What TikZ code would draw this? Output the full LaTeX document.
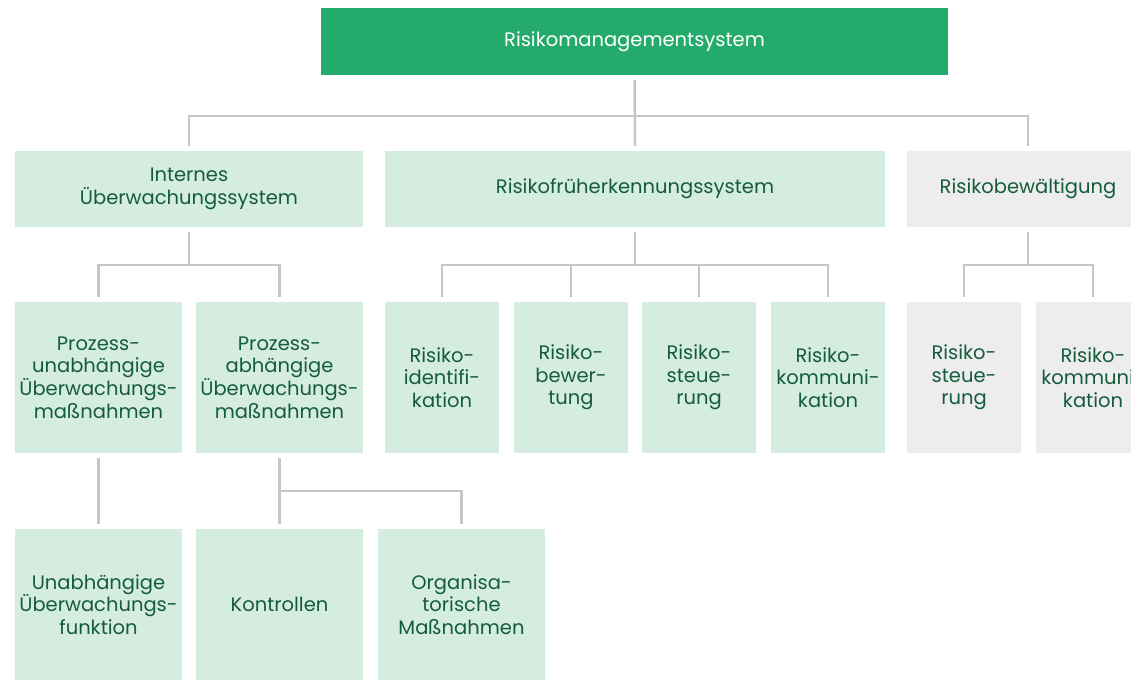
\documentclass[tikz,border=0pt]{standalone}
\usepackage{fontspec}
\setmainfont{Poppins}
\definecolor{topg}{HTML}{24AB6B}
\definecolor{lightg}{HTML}{D4EDE0}
\definecolor{lgray}{HTML}{EDEDED}
\definecolor{txtg}{HTML}{145C3C}
\definecolor{conng}{HTML}{C6C6C6}
\tikzset{
  box/.style={inner sep=0pt, align=center, text=txtg, font=\fontsize{19.5}{22.7}\selectfont},
  gbox/.style={box, fill=lightg},
  ybox/.style={box, fill=lgray},
  conn/.style={draw=conng, line width=2.5pt},
}
\begin{document}
\begin{tikzpicture}[x=1pt,y=-1pt]
\useasboundingbox (0,0) rectangle (1131,700);
\clip (0,0) rectangle (1131,700);
% level 1
\node[box, fill=topg, text=white, minimum width=627pt, minimum height=67pt] (top) at (634.5,41.5) {Risikomanagementsystem};
% level 2
\node[gbox, minimum width=348pt, minimum height=76pt] (ius) at (189,189) {Internes\\Überwachungssystem};
\node[gbox, minimum width=500pt, minimum height=76pt] (rfs) at (635,189) {Risikofrüherkennungssystem};
\node[ybox, minimum width=242pt, minimum height=76pt] (rb) at (1028,189) {Risikobewältigung};
% level 3
\node[gbox, minimum width=167pt, minimum height=151pt] (pu) at (98.5,377.5) {Prozess-\\unabhängige\\Überwachungs-\\maßnahmen};
\node[gbox, minimum width=167pt, minimum height=151pt] (pa) at (279.5,377.5) {Prozess-\\abhängige\\Überwachungs-\\maßnahmen};
\node[gbox, minimum width=114pt, minimum height=151pt] (ri) at (442,377.5) {Risiko-\\identifi-\\kation};
\node[gbox, minimum width=114pt, minimum height=151pt] (rw) at (571,377.5) {Risiko-\\bewer-\\tung};
\node[gbox, minimum width=114pt, minimum height=151pt] (rs) at (699,377.5) {Risiko-\\steue-\\rung};
\node[gbox, minimum width=114pt, minimum height=151pt] (rk) at (828,377.5) {Risiko-\\kommuni-\\kation};
\node[ybox, minimum width=114pt, minimum height=151pt] (bs) at (964,377.5) {Risiko-\\steue-\\rung};
\node[ybox, minimum width=114pt, minimum height=151pt] (bk) at (1093,377.5) {Risiko-\\kommuni-\\kation};
% level 4
\node[gbox, minimum width=167pt, minimum height=151pt] (uf) at (98.5,604.5) {Unabhängige\\Überwachungs-\\funktion};
\node[gbox, minimum width=167pt, minimum height=151pt] (ko) at (279.5,604.5) {Kontrollen};
\node[gbox, minimum width=167pt, minimum height=151pt] (om) at (461.5,604.5) {Organisa-\\torische\\Maßnahmen};
% connectors level 1-2
\draw[conn] ([yshift=-5pt]top.south) -- ([yshift=5pt]rfs.north);
\draw[conn] ([yshift=5pt]ius.north) -- (ius.north |- 0,116) -- (rb.north |- 0,116) -- ([yshift=5pt]rb.north);
% level 2-3
\draw[conn] ([yshift=-5pt]ius.south) -- (ius.south |- 0,265);
\draw[conn] ([yshift=5pt]pu.north) -- (pu.north |- 0,265) -- (pa.north |- 0,265) -- ([yshift=5pt]pa.north);
\draw[conn] ([yshift=-5pt]rfs.south) -- (rfs.south |- 0,265);
\draw[conn] ([yshift=5pt]ri.north) -- (ri.north |- 0,265) -- (rk.north |- 0,265) -- ([yshift=5pt]rk.north);
\draw[conn] ([yshift=5pt]rw.north) -- (rw.north |- 0,265);
\draw[conn] ([yshift=5pt]rs.north) -- (rs.north |- 0,265);
\draw[conn] ([yshift=-5pt]rb.south) -- (rb.south |- 0,265);
\draw[conn] ([yshift=5pt]bs.north) -- (bs.north |- 0,265) -- (bk.north |- 0,265) -- ([yshift=5pt]bk.north);
% level 3-4
\draw[conn] ([yshift=-5pt]pu.south) -- ([yshift=5pt]uf.north);
\draw[conn] ([yshift=-5pt]pa.south) -- ([yshift=5pt]ko.north);
\draw[conn] (pa.south |- 0,491) -- (om.north |- 0,491) -- ([yshift=5pt]om.north);
\end{tikzpicture}
\end{document}
